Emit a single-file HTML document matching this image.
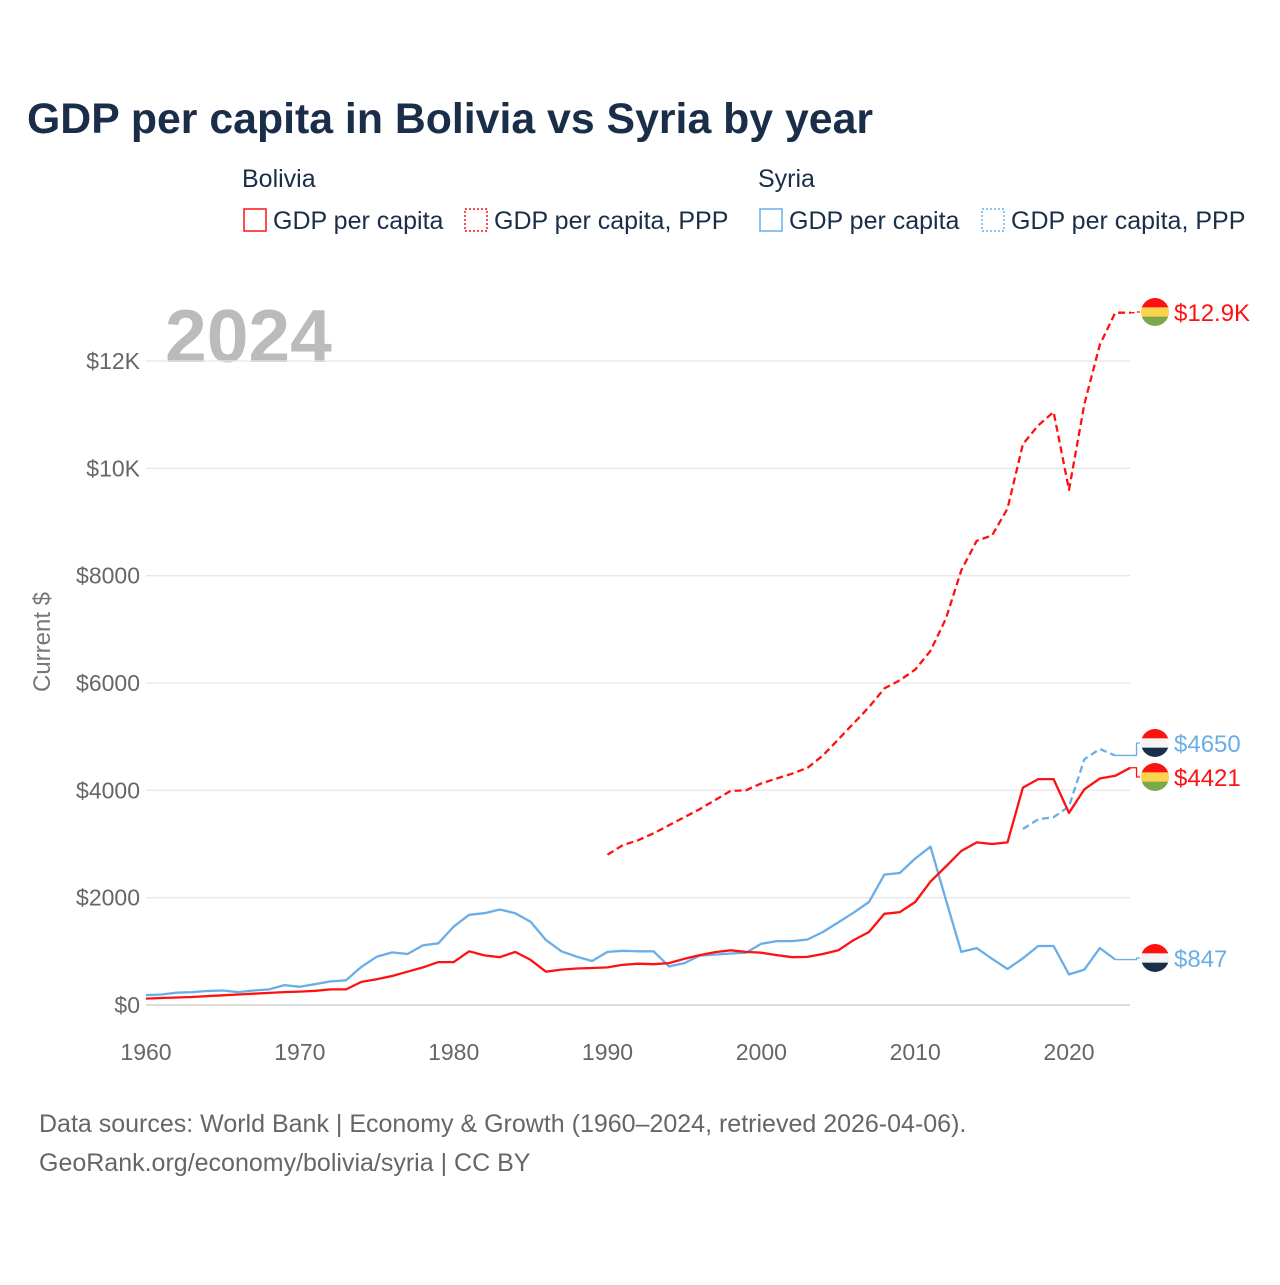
<!DOCTYPE html>
<html><head><meta charset="utf-8"><style>
body{margin:0;background:#fff;font-family:"Liberation Sans",sans-serif;}
svg text{font-family:"Liberation Sans",sans-serif;}
</style></head><body>
<svg id="c" width="1280" height="1280" xmlns="http://www.w3.org/2000/svg">
<text x="27" y="133" font-size="42.8" font-weight="bold" fill="#1a2e4a">GDP per capita in Bolivia vs Syria by year</text>
<g font-size="25" fill="#1a2e4a">
<text x="242" y="187">Bolivia</text>
<text x="758" y="187">Syria</text>
<rect x="244" y="209" width="22" height="22" fill="none" stroke="#f11" stroke-width="1.5"/>
<text x="273" y="229">GDP per capita</text>
<rect x="465" y="209" width="22" height="22" fill="none" stroke="#f11" stroke-width="1.5" stroke-dasharray="2,2"/>
<text x="494" y="229">GDP per capita, PPP</text>
<rect x="760" y="209" width="22" height="22" fill="none" stroke="#6aaee8" stroke-width="1.5"/>
<text x="789" y="229">GDP per capita</text>
<rect x="982" y="209" width="22" height="22" fill="none" stroke="#6aaee8" stroke-width="1.5" stroke-dasharray="2,2"/>
<text x="1011" y="229">GDP per capita, PPP</text>
</g>
<text x="165" y="362" font-size="75" font-weight="bold" fill="#bbb">2024</text>
<text transform="translate(50,642) rotate(-90)" text-anchor="middle" font-size="24" fill="#777">Current $</text>
<g id="grid"></g><g id="lines"></g><g id="labels"></g>
<text x="39" y="1132" font-size="25" fill="#666">Data sources: World Bank | Economy &amp; Growth (1960–2024, retrieved 2026-04-06).</text>
<text x="39" y="1171" font-size="25" fill="#666">GeoRank.org/economy/bolivia/syria | CC BY</text>
</svg>
<script>
const yTicks=[0,2000,4000,6000,8000,10000,12000];
const yTickLabels=["$0","$2000","$4000","$6000","$8000","$10K","$12K"];
const xTicks=[1960,1970,1980,1990,2000,2010,2020];
const boliviaGdp=[120,130,140,150,165,180,195,210,225,240,250,265,290,290,430,480,540,620,700,800,800,1000,925,890,990,840,620,660,680,690,700,750,770,760,780,860,930,985,1020,990,975,930,890,897,950,1020,1210,1360,1700,1730,1920,2300,2580,2870,3030,3000,3030,4050,4210,4210,3580,4020,4220,4270,4421];
const syriaGdp=[185,195,230,240,260,270,240,270,290,370,340,390,440,460,710,900,980,950,1110,1150,1460,1680,1710,1780,1710,1550,1210,1000,900,820,990,1010,1000,1000,720,780,920,940,960,975,1140,1190,1190,1220,1360,1540,1720,1920,2430,2460,2730,2950,1960,990,1060,860,670,870,1100,1100,570,660,1060,847];
const boliviaPppYears=[1990,1991,1992,1993,1994,1995,1996,1997,1998,1999,2000,2001,2002,2003,2004,2005,2006,2007,2008,2009,2010,2011,2012,2013,2014,2015,2016,2017,2018,2019,2020,2021,2022,2023,2024];
const boliviaPpp=[2800,2980,3070,3200,3350,3500,3650,3820,3990,4000,4130,4220,4310,4420,4650,4950,5250,5550,5900,6050,6250,6600,7200,8100,8650,8750,9250,10450,10800,11050,9600,11200,12300,12900,12900];
const syriaPppYears=[2017,2018,2019,2020,2021,2022,2023];
const syriaPpp=[3280,3460,3500,3700,4580,4770,4650];
const endLabels=["$12.9K","$4650","$4421","$847"];

const NS="http://www.w3.org/2000/svg";
const X=y=>146+(y-1960)*(1069-146)/60;
const Y=v=>1005-v*(1005-361)/12000;
function mk(t,a,p){const e=document.createElementNS(NS,t);for(const k in a)e.setAttribute(k,a[k]);document.getElementById(p).appendChild(e);return e;}
yTicks.forEach((v,i)=>{
 const l=mk('line',{x1:146,x2:1130,y1:Y(v),y2:Y(v),stroke:i==0?'#ddd':'#e8e8e8','stroke-width':i==0?2:1.3},'grid');
 
 
 const t=mk('text',{x:140,y:Y(v)+8,'text-anchor':'end','font-size':23,fill:'#666'},'grid');t.textContent=yTickLabels[i];
 
 
});
xTicks.forEach(v=>{
 const t=mk('text',{x:X(v),y:1060,'text-anchor':'middle','font-size':23,fill:'#666'},'grid');t.textContent=v;
 
 
});
function line(years,vals,color,dash,name){
 const d=vals.map((v,i)=>(i?'L':'M')+X(years[i]).toFixed(1)+','+Y(v).toFixed(1)).join('');
 const p=mk('path',{d:d,fill:'none',stroke:color,'stroke-width':2.3,'stroke-dasharray':dash,'stroke-linejoin':'round'},'lines');
 
 
}
const yrs=n=>Array.from({length:n},(_,i)=>1960+i);
line(boliviaPppYears,boliviaPpp,'#f11','7,4','line-bolivia-ppp');
line(syriaPppYears,syriaPpp,'#6aaee8','7,4','line-syria-ppp');
line(yrs(syriaGdp.length),syriaGdp,'#6aaee8','none','line-syria-gdp');
line(yrs(boliviaGdp.length),boliviaGdp,'#f11','none','line-bolivia-gdp');
const ends=[
 {yr:2024,v:boliviaPpp[boliviaPpp.length-1],ly:312,c:'#f11',flag:'bo',dash:'4,3'},
 {yr:2023,v:syriaPpp[syriaPpp.length-1],ly:743,c:'#6aaee8',flag:'sy',dash:'none'},
 {yr:2024,v:boliviaGdp[boliviaGdp.length-1],ly:777,c:'#f11',flag:'bo',dash:'none'},
 {yr:2023,v:syriaGdp[syriaGdp.length-1],ly:958,c:'#6aaee8',flag:'sy',dash:'none'}];
ends.forEach((e,i)=>{
 const x0=X(e.yr),y0=Y(e.v),xm=X(2024)+6;
 const c=mk('path',{d:`M${x0},${y0}L${xm},${y0}L${xm},${e.ly}L1140,${e.ly}`,fill:'none',stroke:e.c,'stroke-width':1.3,'stroke-dasharray':e.dash},'labels');
 
 
 const cx=1155,cy=e.ly,r=14;
 const g=mk('g',{},'labels');
 
 
 const cols=e.flag=='bo'?['#f11','#fcd34d','#7aa84a']:['#f11','#f4f4f4','#1a2e4a'];
 const id='cl'+i;
 const cp=document.createElementNS(NS,'clipPath');cp.setAttribute('id',id);
 const cc=document.createElementNS(NS,'circle');cc.setAttribute('cx',cx);cc.setAttribute('cy',cy);cc.setAttribute('r',r);cp.appendChild(cc);g.appendChild(cp);
 cols.forEach((col,k)=>{const rr=document.createElementNS(NS,'rect');rr.setAttribute('x',cx-r);rr.setAttribute('y',cy-r+k*2*r/3);rr.setAttribute('width',2*r);rr.setAttribute('height',2*r/3+0.5);rr.setAttribute('fill',col);rr.setAttribute('clip-path',`url(#${id})`);g.appendChild(rr);});
 const t=mk('text',{x:1174,y:e.ly+9,'font-size':24,fill:e.c},'labels');t.textContent=endLabels[i];
 
 
});
</script>
</body></html>
